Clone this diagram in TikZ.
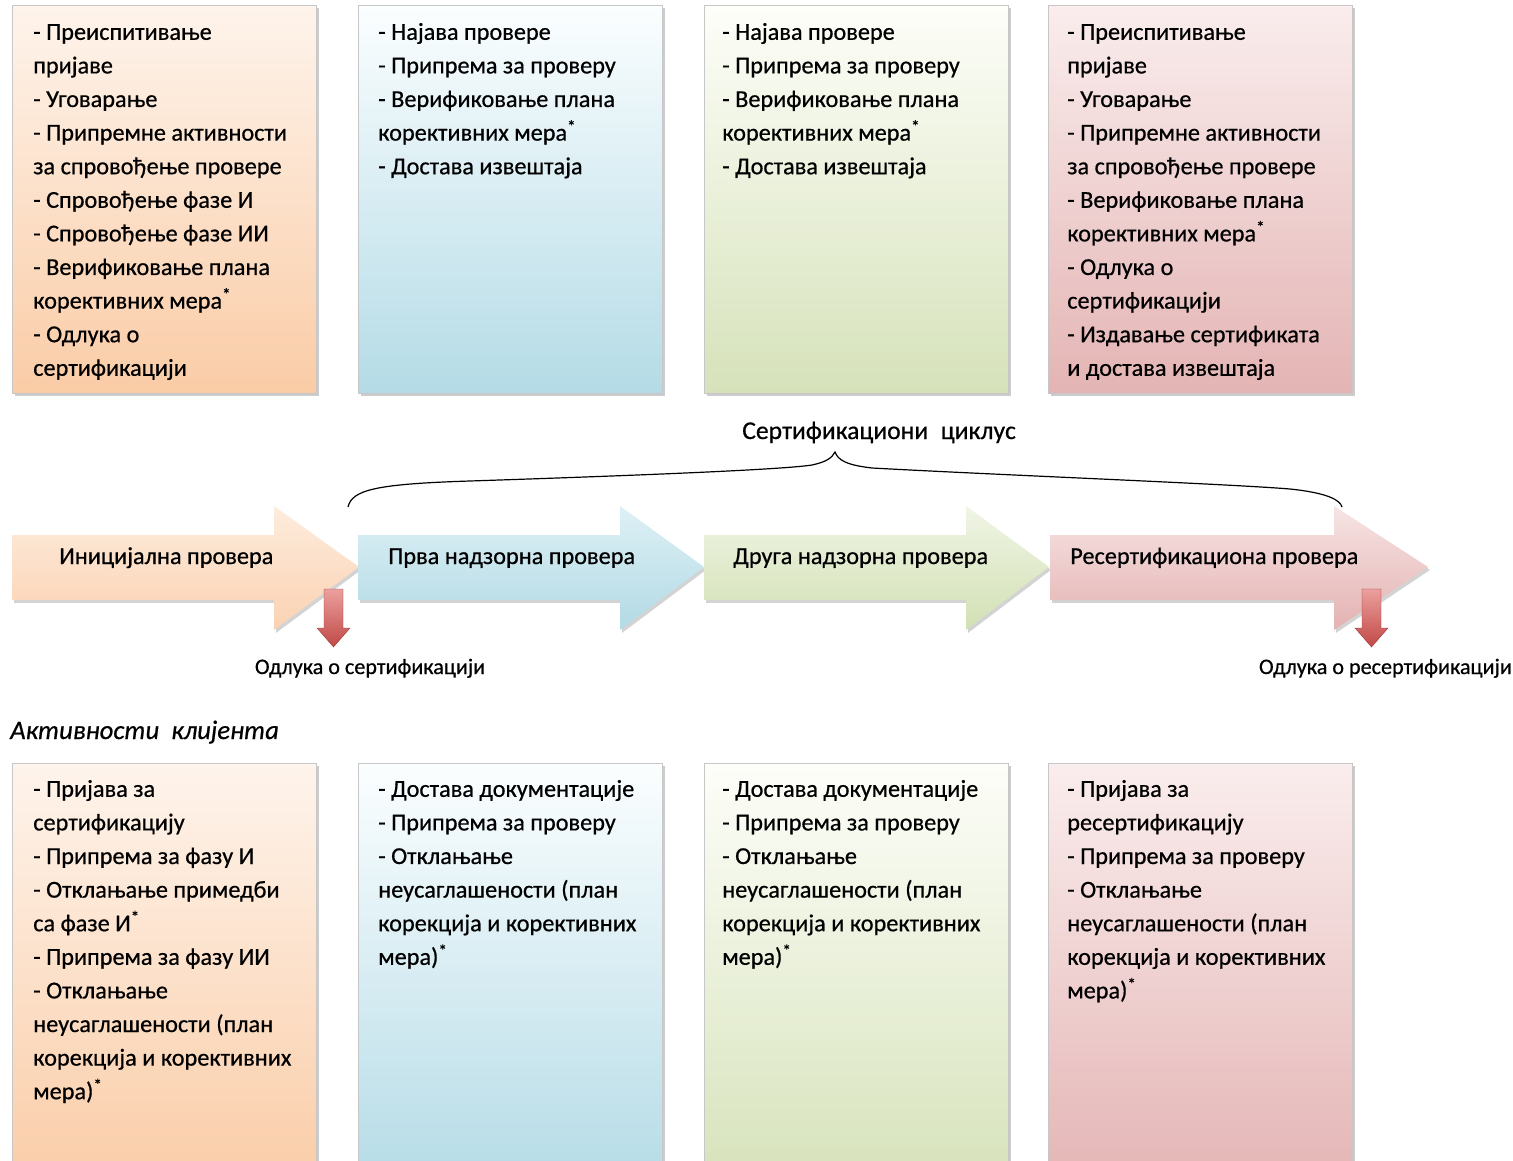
\documentclass[tikz,border=0pt]{standalone}
\usepackage{fontspec}
\setmainfont{Carlito}[FakeBold=0.6]
\usetikzlibrary{shadows}
\definecolor{orT}{RGB}{254,244,236}
\definecolor{orB}{RGB}{250,204,166}
\definecolor{blT}{RGB}{251,254,255}
\definecolor{blB}{RGB}{180,219,230}
\definecolor{grT}{RGB}{253,254,249}
\definecolor{grB}{RGB}{214,226,186}
\definecolor{rdT}{RGB}{250,237,237}
\definecolor{rdB}{RGB}{228,180,180}
\definecolor{aorT}{RGB}{253,236,221}
\definecolor{aorB}{RGB}{251,210,178}
\definecolor{ablT}{RGB}{222,240,245}
\definecolor{ablB}{RGB}{178,218,229}
\definecolor{agrT}{RGB}{240,245,229}
\definecolor{agrB}{RGB}{210,224,180}
\definecolor{ardT}{RGB}{247,228,228}
\definecolor{ardB}{RGB}{228,178,178}
\definecolor{redT}{RGB}{236,160,158}
\definecolor{redB}{RGB}{192,72,70}
\begin{document}
\begin{tikzpicture}[x=0.75pt,y=-0.75pt,
  cbox/.style={draw=black!22, line width=0.5pt, anchor=north west, inner sep=0pt,
    minimum width=228pt,
    drop shadow={shadow xshift=2.2pt, shadow yshift=-2.2pt, opacity=.4, fill=black!50}},
  topbox/.style={cbox, minimum height=291pt},
  botbox/.style={cbox, minimum height=320pt},
  txt/.style={anchor=north west, inner sep=0pt, align=left, font=\fontsize{18.2}{25.2}\selectfont},
  lbl/.style={anchor=base west, inner sep=0pt, font=\fontsize{18.2}{21}\selectfont},
  smalllbl/.style={inner sep=0pt, font=\fontsize{16.6}{20}\selectfont},
  barrow/.style={drop shadow={shadow xshift=1.5pt, shadow yshift=-2.2pt, opacity=.35, fill=black!50}},
  redarrow/.style={top color=redT, bottom color=redB, draw=redB!80!black, line width=0.3pt}
]
\useasboundingbox (0,0) rectangle (1513,1160);
\clip (0,0) rectangle (1513,1160);

% ---------- top boxes ----------
\node[topbox, top color=orT, bottom color=orB] (B1) at (12,5) {};
\node[topbox, top color=blT, bottom color=blB] (B2) at (358,5) {};
\node[topbox, top color=grT, bottom color=grB] (B3) at (704,5) {};
\node[topbox, top color=rdT, bottom color=rdB] (B4) at (1048,5) {};

\node[txt] (T1) at (33,16) {\strut- Преиспитивање\\пријаве\\- Уговарање\\- Припремне активности\\за спровођење провере\\- Спровођење фазе И\\- Спровођење фазе ИИ\\- Верификовање плана\\корективних мера\textsuperscript{*}\\- Одлука о\\сертификацији};
\node[txt] (T2) at (378,16) {\strut- Најава провере\\- Припрема за проверу\\- Верификовање плана\\корективних мера\textsuperscript{*}\\- Достава извештаја};
\node[txt] (T3) at (722,16) {\strut- Најава провере\\- Припрема за проверу\\- Верификовање плана\\корективних мера\textsuperscript{*}\\- Достава извештаја};
\node[txt] (T4) at (1067,16) {\strut- Преиспитивање\\пријаве\\- Уговарање\\- Припремне активности\\за спровођење провере\\- Верификовање плана\\корективних мера\textsuperscript{*}\\- Одлука о\\сертификацији\\- Издавање сертификата\\и достава извештаја};

% ---------- cycle brace ----------
\node[lbl, font=\fontsize{19.2}{21}\selectfont] (cyc) at (742,439) {Сертификациони\hspace{9.5pt}циклус};
\draw[line width=0.9pt] (348,507) .. controls (352,490) and (375,484) .. (470,481)
  .. controls (620,476) and (780,470) .. (812,465)
  .. controls (826,462) and (832,458) .. (835,452)
  .. controls (838,460) and (846,465) .. (872,468)
  .. controls (1000,475) and (1230,484) .. (1290,489)
  .. controls (1328,493) and (1340,500) .. (1342,507);

% ---------- block arrows ----------
\path[barrow, top color=aorT, bottom color=aorB] (12,535) -- (274,535) -- (274,506) -- (359,567) -- (274,630) -- (274,600) -- (12,600) -- cycle;
\path[barrow, top color=ablT, bottom color=ablB] (358,535) -- (620,535) -- (620,506) -- (704,567) -- (620,630) -- (620,600) -- (358,600) -- cycle;
\path[barrow, top color=agrT, bottom color=agrB] (704,535) -- (966,535) -- (966,506) -- (1049,567) -- (966,630) -- (966,600) -- (704,600) -- cycle;
\path[barrow, top color=ardT, bottom color=ardB] (1050,535) -- (1334,535) -- (1334,506) -- (1428,567) -- (1334,630) -- (1334,600) -- (1050,600) -- cycle;

\node[lbl] (A1) at (59,564) {Иницијална провера};
\node[lbl] (A2) at (388,564) {Прва надзорна провера};
\node[lbl] (A3) at (733,564) {Друга надзорна провера};
\node[lbl] (A4) at (1070,564) {Ресертификациона провера};

% ---------- decision arrows ----------
\path[redarrow] (324,589) -- (343,589) -- (343,628) -- (350,628) -- (333.5,647) -- (317,628) -- (324,628) -- cycle;
\path[redarrow] (1362,589) -- (1381,589) -- (1381,628) -- (1388,628) -- (1371.5,647) -- (1355,628) -- (1362,628) -- cycle;

\node[smalllbl, anchor=base] (D1) at (370,674) {Одлука о сертификацији};
\node[smalllbl, anchor=base east] (D2) at (1512,674) {Одлука о ресертификацији};

\node[lbl, font=\fontsize{20}{22}\selectfont\itshape] (K) at (10,739) {Активности\hspace{9pt}клијента};

% ---------- bottom boxes ----------
\node[botbox, top color=orT, bottom color=orB] (C1) at (12,763) {};
\node[botbox, top color=blT, bottom color=blB] (C2) at (358,763) {};
\node[botbox, top color=grT, bottom color=grB] (C3) at (704,763) {};
\node[botbox, top color=rdT, bottom color=rdB] (C4) at (1048,763) {};

\node[txt] (U1) at (33,773) {\strut- Пријава за\\сертификацију\\- Припрема за фазу И\\- Отклањање примедби\\са фазе И\textsuperscript{*}\\- Припрема за фазу ИИ\\- Отклањање\\неусаглашености (план\\корекција и корективних\\мера)\textsuperscript{*}};
\node[txt] (U2) at (378,773) {\strut- Достава документације\\- Припрема за проверу\\- Отклањање\\неусаглашености (план\\корекција и корективних\\мера)\textsuperscript{*}};
\node[txt] (U3) at (722,773) {\strut- Достава документације\\- Припрема за проверу\\- Отклањање\\неусаглашености (план\\корекција и корективних\\мера)\textsuperscript{*}};
\node[txt] (U4) at (1067,773) {\strut- Пријава за\\ресертификацију\\- Припрема за проверу\\- Отклањање\\неусаглашености (план\\корекција и корективних\\мера)\textsuperscript{*}};
\end{tikzpicture}
\end{document}
